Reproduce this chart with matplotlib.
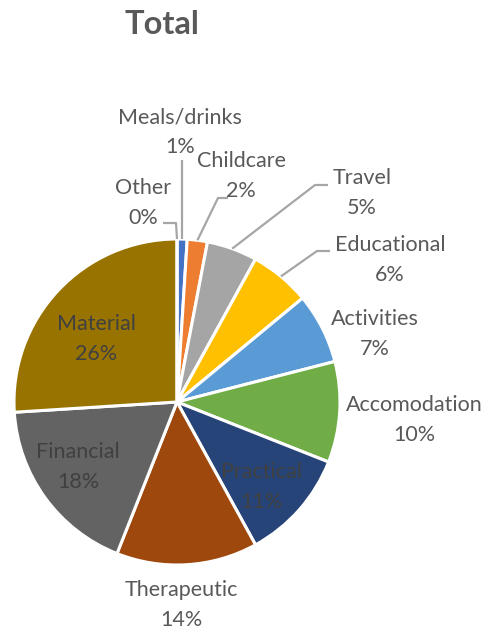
import numpy as np
import matplotlib.pyplot as plt

# Share of support by category (percent), clockwise from 12 o'clock
categories = ["Meals/drinks", "Childcare", "Travel", "Educational", "Activities",
              "Accomodation", "Practical", "Therapeutic", "Financial", "Material", "Other"]
shares = [1, 2, 5, 6, 7, 10, 11, 14, 18, 26, 0]

colors = ["#4472C4", "#ED7D31", "#A5A5A5", "#FFC000", "#5B9BD5",
          "#70AD47", "#264478", "#9E480E", "#636363", "#997300", "#255E91"]

# label centre (pixels) and whether a leader line is drawn
label_pos = {
    "Meals/drinks": (180, 132, True),
    "Childcare": (241, 176, True),
    "Travel": (362, 193, True),
    "Educational": (390, 260, True),
    "Activities": (375, 334, False),
    "Accomodation": (414, 420, False),
    "Practical": (261, 487, False),
    "Therapeutic": (181, 605, False),
    "Financial": (78, 467, False),
    "Material": (96, 339, False),
    "Other": (143, 203, True),
}
inside = {"Practical", "Financial", "Material"}

plt.rcParams['font.family'] = ['Lato', 'DejaVu Sans']
text_color = "#595959"

fig = plt.figure(figsize=(4.88, 6.34), dpi=100)
ax = fig.add_axes([0, 0, 1, 1])

cx, cy, r = 177, 402, 163
explode = [0.02 if c == "Material" else 0 for c in categories]
# y axis is flipped below, so counterclock=True runs clockwise on screen
wedges, _ = ax.pie(shares, colors=colors, startangle=-90, counterclock=True,
                   center=(cx, cy), radius=r, explode=explode,
                   wedgeprops=dict(edgecolor="white", linewidth=2.2))
ax.set_xlim(0, 488)
ax.set_ylim(634, 0)
ax.set_aspect("equal")
ax.axis("off")

total = sum(shares)
for w, name, val in zip(wedges, categories, shares):
    x, y, leader = label_pos[name]
    pct = round(100 * val / total)
    col = "#404040" if name in inside else text_color
    ax.text(x, y, f"{name}\n{pct}%", ha="center", va="center",
            fontsize=15.5, color=col, linespacing=1.6)
    if leader:
        mid = np.deg2rad((w.theta1 + w.theta2) / 2)
        ex, ey = cx + r * np.cos(mid), cy + r * np.sin(mid)
        if name == "Meals/drinks":
            pts = [(ex, y + 28), (ex, ey)]
        elif name == "Other":
            pts = [(x + 20, y + 20), (ex - 1, y + 20), (ex, ey)]
        elif name == "Childcare":
            pts = [(x - 13, y + 22), (x - 23, y + 22), (ex, ey)]
        elif name == "Travel":
            pts = [(x - 34, y - 8), (x - 47, y - 8), (ex, ey)]
        else:
            pts = [(x - 60, y - 9), (x - 73, y - 9), (ex, ey)]
        xs, ys = zip(*pts)
        ax.plot(xs, ys, color="#A6A6A6", linewidth=1.6, solid_capstyle="butt")

ax.text(162, 24, "Total", ha="center", va="center", fontsize=23.5,
        fontweight="bold", color=text_color)

fig.savefig("out.png", dpi=100)
